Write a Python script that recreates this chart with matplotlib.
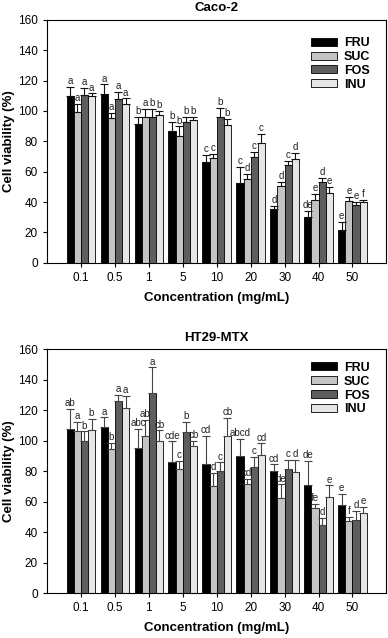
import numpy as np
import matplotlib
matplotlib.use('Agg')
import matplotlib.pyplot as plt

plt.rcParams['font.family'] = ['Liberation Sans', 'DejaVu Sans']

# 浓度分组
conc_labels = ['0.1', '0.5', '1', '5', '10', '20', '30', '40', '50']
series_names = ['FRU', 'SUC', 'FOS', 'INU']

# Caco-2 数据 (均值, 误差, 字母)
caco_fru = [109.5, 111, 91.5, 86.5, 66.3, 52.5, 35.5, 30.5, 21.7]
caco_suc = [99.6, 95.2, 96.3, 83.8, 68.9, 55.1, 50.7, 41.5, 40.8]
caco_fos = [110.6, 107.7, 96.3, 92.6, 96.3, 69.8, 64.5, 53.5, 38.2]
caco_inu = [109.5, 104.7, 97.2, 94.3, 90.8, 79.2, 68.3, 46.3, 40.0]
caco_fru_err = [6.5, 6.5, 4.5, 6.5, 4.7, 10.5, 2.2, 3.7, 5.5]
caco_suc_err = [5.0, 3.3, 5.0, 6.0, 2.6, 3.7, 2.4, 4.0, 2.8]
caco_fos_err = [4.5, 4.7, 5.0, 3.7, 5.5, 3.3, 2.8, 2.3, 1.7]
caco_inu_err = [2.0, 3.5, 3.0, 2.0, 4.0, 5.5, 4.0, 3.5, 1.5]
caco_fru_let = ['a', 'a', 'b', 'b', 'c', 'c', 'd', 'de', 'e']
caco_suc_let = ['a', 'a', 'a', 'b', 'c', 'd', 'd', 'e', 'e']
caco_fos_let = ['a', 'a', 'b', 'b', 'b', 'c', 'c', 'd', 'e']
caco_inu_let = ['a', 'a', 'b', 'b', 'b', 'c', 'd', 'e', 'f']

# HT29-MTX 数据
ht_fru = [107.8, 109.3, 95.3, 85.9, 84.4, 89.8, 80.4, 71.0, 58.1]
ht_suc = [106.2, 94.6, 103.2, 81.7, 70.2, 71.7, 62.3, 55.7, 47.0]
ht_fos = [100.1, 126.3, 131.1, 105.5, 79.8, 82.6, 81.1, 44.4, 48.1]
ht_inu = [107.3, 121.5, 100.1, 96.2, 103.0, 90.3, 79.3, 62.9, 52.7]
ht_fru_err = [13.0, 6.0, 12.5, 13.6, 19.0, 11.4, 4.0, 16.0, 7.0]
ht_suc_err = [6.0, 4.0, 10.5, 5.0, 8.7, 3.3, 9.0, 3.0, 2.8]
ht_fos_err = [6.0, 4.0, 17.0, 7.0, 6.0, 6.6, 6.3, 5.0, 6.0]
ht_inu_err = [7.0, 8.0, 6.6, 3.5, 12.0, 8.0, 8.0, 7.7, 3.7]
ht_fru_let = ['ab', 'a', 'abc', 'cde', 'cd', 'abcd', 'cd', 'de', 'e']
ht_suc_let = ['a', 'b', 'ab', 'c', 'd', 'cd', 'de', 'fe', 'f']
ht_fos_let = ['b', 'a', 'a', 'b', 'c', 'c', 'c', 'd', 'd']
ht_inu_let = ['b', 'a', 'cb', 'cb', 'cb', 'cd', 'd', 'e', 'e']

colors = ['#000000', '#c4c4c4', '#5e5e5e', '#e6e6e6']


def draw_panel(ax, title, means, errs, letters, err_color, leg_y):
    x = np.arange(1, len(conc_labels) + 1)
    width = 0.21
    offsets = [-1.5 * width, -0.5 * width, 0.5 * width, 1.5 * width]
    for k in range(4):
        xs = x + offsets[k]
        ax.bar(xs, means[k], width, color=colors[k], edgecolor='black',
               linewidth=0.6, label=series_names[k], zorder=2)
        ax.errorbar(xs, means[k], yerr=[np.zeros(len(xs)), errs[k]], fmt='none',
                    ecolor=err_color, elinewidth=0.8, capsize=3, capthick=0.8, zorder=3)
        for xi, m, e, t in zip(xs, means[k], errs[k], letters[k]):
            ax.text(xi, m + e + 0.5, t, ha='center', va='bottom', fontsize=7, color='#222222')

    ax.set_xlim(0, 10)
    ax.set_ylim(0, 160)
    ax.set_yticks(np.arange(0, 161, 20))
    ax.set_xticks(x)
    ax.set_xticklabels(conc_labels)
    ax.tick_params(axis='both', labelsize=8.5, direction='out', length=3, width=0.8)
    ax.set_ylabel('Cell viability (%)', fontsize=9.5, fontweight='bold', labelpad=2)
    ax.set_xlabel('Concentration (mg/mL)', fontsize=9.5, fontweight='bold', labelpad=6)
    ax.set_title(title, fontsize=9.5, fontweight='bold', pad=6)
    for sp in ax.spines.values():
        sp.set_linewidth(0.8)
    ax.legend(loc='upper right', bbox_to_anchor=(0.985, leg_y), frameon=False,
              prop={'size': 9, 'weight': 'bold'}, handlelength=2.1, handleheight=0.6,
              labelspacing=0.15, handletextpad=0.5)


fig = plt.figure(figsize=(3.88, 6.38), dpi=100)
ax1 = fig.add_axes([0.121, 0.588, 0.875, 0.381])
ax2 = fig.add_axes([0.121, 0.0705, 0.875, 0.382])

draw_panel(ax1, 'Caco-2',
           [caco_fru, caco_suc, caco_fos, caco_inu],
           [caco_fru_err, caco_suc_err, caco_fos_err, caco_inu_err],
           [caco_fru_let, caco_suc_let, caco_fos_let, caco_inu_let], '#111111', 0.975)
draw_panel(ax2, 'HT29-MTX',
           [ht_fru, ht_suc, ht_fos, ht_inu],
           [ht_fru_err, ht_suc_err, ht_fos_err, ht_inu_err],
           [ht_fru_let, ht_suc_let, ht_fos_let, ht_inu_let], '#444444', 0.995)

fig.savefig('out.png', dpi=100)
